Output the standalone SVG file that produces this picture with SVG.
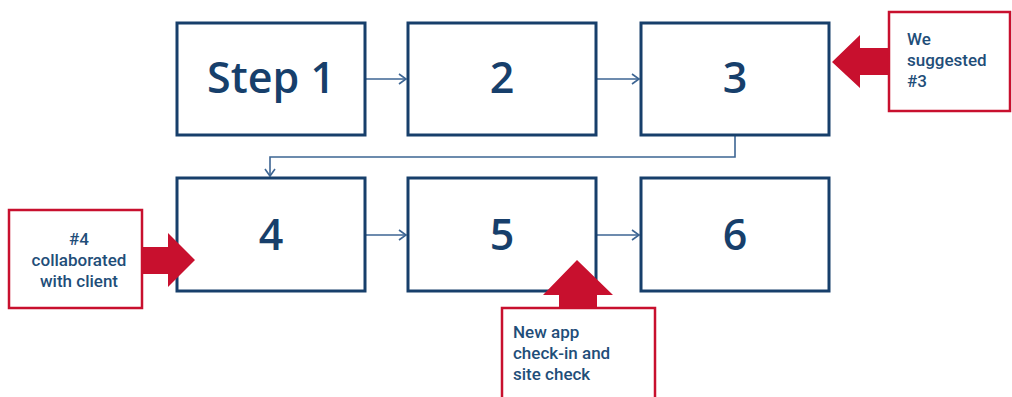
<svg xmlns="http://www.w3.org/2000/svg" width="1012" height="397" viewBox="0 0 1012 397">
<style>
.box{fill:#fff;stroke:#173f6b;stroke-width:3}
.big{font-family:"Open Sans","Liberation Sans",sans-serif;font-weight:600;font-size:43px;fill:#173f6b;text-anchor:middle}
.note{fill:#fff;stroke:#c8102e;stroke-width:2.5}
.small{font-family:Roboto,"Liberation Sans",sans-serif;font-weight:500;font-size:17px;fill:#1f4e79}
.con{fill:none;stroke:#3d6593;stroke-width:1.6}
.red{fill:#c8102e}
</style>
<defs>
<marker id="ah" markerWidth="12" markerHeight="12" refX="10" refY="6" orient="auto" markerUnits="userSpaceOnUse">
<path d="M3,1 L10,6 L3,11" fill="none" stroke="#3d6593" stroke-width="1.6"/>
</marker>
</defs>
<g id="connectors">
<line class="con" x1="365" y1="79" x2="406" y2="79" marker-end="url(#ah)"/>
<line class="con" x1="596" y1="79" x2="639" y2="79" marker-end="url(#ah)"/>
<polyline class="con" points="735,136 735,157 270,157 270,176" marker-end="url(#ah)"/>
<line class="con" x1="365" y1="235" x2="406" y2="235" marker-end="url(#ah)"/>
<line class="con" x1="596" y1="235" x2="639" y2="235" marker-end="url(#ah)"/>
</g>
<g id="step1"><rect class="box" x="177" y="23" width="188" height="112"/><text class="big" x="271" y="93">Step 1</text></g>
<g id="step2"><rect class="box" x="408" y="23" width="188" height="112"/><text class="big" x="502" y="93">2</text></g>
<g id="step3"><rect class="box" x="641" y="23" width="188" height="112"/><text class="big" x="735" y="93">3</text></g>
<g id="step4"><rect class="box" x="177" y="178" width="188" height="113"/><text class="big" x="271" y="250">4</text></g>
<g id="step5"><rect class="box" x="408" y="178" width="188" height="113"/><text class="big" x="502" y="250">5</text></g>
<g id="step6"><rect class="box" x="641" y="178" width="188" height="113"/><text class="big" x="735" y="250">6</text></g>
<g id="note3">
<polygon class="red" points="832,62 860,35 860,48 890,48 890,75 860,75 860,88"/>
<rect class="note" x="889" y="12" width="121" height="99"/>
<text class="small" x="907" y="45">We</text>
<text class="small" x="907" y="66">suggested</text>
<text class="small" x="907" y="87">#3</text>
</g>
<g id="note4">
<polygon class="red" points="141,247 168,247 168,233 195,260 168,287 168,274 141,274"/>
<rect class="note" x="9" y="210" width="133" height="98"/>
<text class="small" x="79" y="245" text-anchor="middle">#4</text>
<text class="small" x="79" y="266" text-anchor="middle">collaborated</text>
<text class="small" x="79" y="287" text-anchor="middle">with client</text>
</g>
<g id="note5">
<polygon class="red" points="577,260 613,295 597,295 597,309 559,309 559,295 543,295"/>
<rect class="note" x="502" y="308" width="153" height="95"/>
<text class="small" x="513" y="338">New app</text>
<text class="small" x="513" y="359">check-in and</text>
<text class="small" x="513" y="380">site check</text>
</g>
</svg>
